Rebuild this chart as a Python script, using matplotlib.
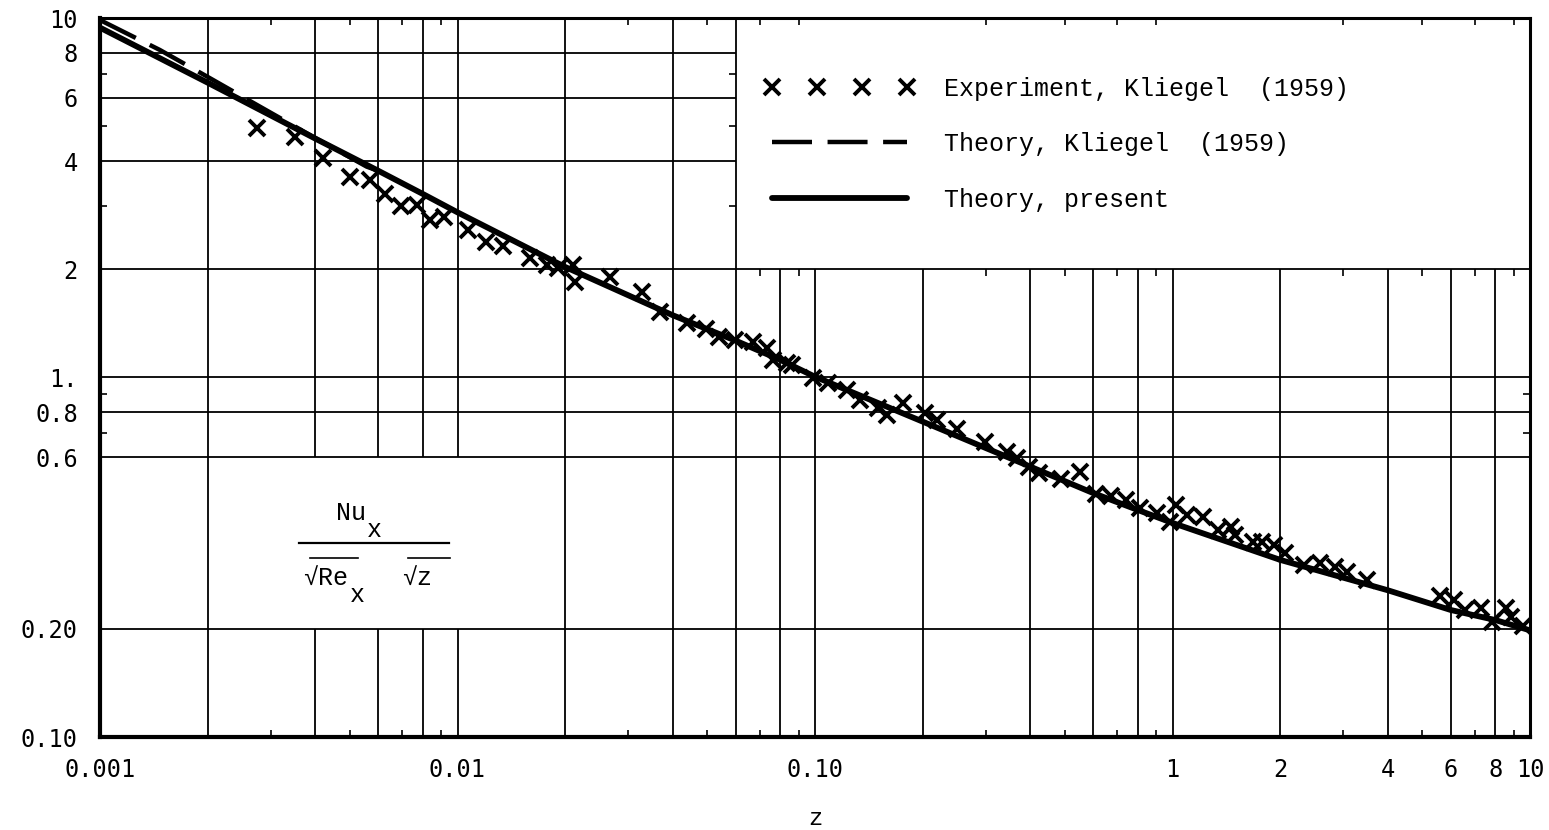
import matplotlib
matplotlib.use('Agg')
from matplotlib import pyplot as plt
from matplotlib.ticker import FixedLocator, NullFormatter

# Experiment, Kliegel (1959)
exp_z = [0.00275, 0.00351, 0.00421, 0.0050, 0.00569, 0.00627, 0.00695, 0.0077, 0.00838, 0.00917, 0.0107, 0.0120, 0.0134,
         0.0160, 0.0178, 0.0191, 0.0210, 0.0213, 0.0267, 0.0328, 0.0369, 0.0439, 0.0496, 0.0539, 0.0597, 0.0671,
         0.0734, 0.0763, 0.0835, 0.0863, 0.0987,
         0.109, 0.123, 0.134, 0.150, 0.159, 0.176, 0.203, 0.220, 0.250,
         0.298, 0.344, 0.367, 0.396, 0.423, 0.488, 0.551, 0.609, 0.673, 0.741, 0.810, 0.905, 0.984, 1.023, 1.10,
         1.22, 1.34, 1.46, 1.50, 1.68, 1.78, 1.92, 2.06, 2.33, 2.58, 2.85, 3.07, 3.51, 5.60, 6.12, 6.58, 7.28,
         7.83, 8.55, 8.85, 9.55]
exp_nu = [4.94, 4.67, 4.08, 3.61, 3.54, 3.24, 3.00, 3.02, 2.74, 2.80, 2.57, 2.38, 2.32,
          2.15, 2.06, 2.02, 2.06, 1.84, 1.90, 1.73, 1.52, 1.42, 1.36, 1.30, 1.27, 1.255,
          1.21, 1.12, 1.10, 1.08, 0.997,
          0.965, 0.923, 0.866, 0.823, 0.786, 0.849, 0.796, 0.762, 0.719,
          0.663, 0.622, 0.597, 0.565, 0.543, 0.522, 0.547, 0.474, 0.468, 0.456, 0.434, 0.420, 0.397, 0.442, 0.414,
          0.410, 0.376, 0.385, 0.365, 0.349, 0.349, 0.342, 0.325, 0.301, 0.305, 0.298, 0.288, 0.273, 0.246, 0.240,
          0.226, 0.228, 0.209, 0.228, 0.216, 0.203]

# Theory, Kliegel (1959)
kliegel_z = [0.001, 0.00147, 0.00201, 0.0028, 0.00417, 0.00557, 0.006]
kliegel_nu = [9.87, 8.15, 6.84, 5.67, 4.53, 3.86, 3.76]

# Theory, present
present_z = [0.001, 0.002, 0.004, 0.006, 0.008, 0.01, 0.02, 0.04, 0.06, 0.08, 0.1,
             0.2, 0.4, 0.6, 0.8, 1, 2, 4, 6, 8, 10]
present_nu = [9.4, 6.61, 4.62, 3.76, 3.24, 2.88, 2.03, 1.49, 1.266, 1.119, 1.005,
              0.754, 0.565, 0.477, 0.428, 0.394, 0.311, 0.256, 0.2256, 0.2115, 0.198]

x_ticks = [0.001, 0.01, 0.1, 1, 2, 4, 6, 8, 10]
x_labels = ['0.001', '0.01', '0.10', '1', '2', '4', '6', '8', '10']
y_ticks = [0.1, 0.2, 0.6, 0.8, 1, 2, 4, 6, 8, 10]
y_labels = ['0.10', '0.20', '0.6', '0.8', '1.', '2', '4', '6', '8', '10']

# graph-paper rulings; some are left out behind the legend and the ordinate label
xgrid_full = [0.002, 0.02, 0.04, 0.06]
xgrid_cut = [0.004, 0.006, 0.008, 0.01]
xgrid_low = [0.08, 0.1, 0.2, 0.4, 0.6, 0.8, 1, 2, 4, 6, 8]
ygrid_full = [0.2, 0.6, 0.8, 1, 2]
ygrid_left = [4, 6, 8]
x_minor = [m * d for d in (0.001, 0.01, 0.1, 1) for m in (3, 5, 7, 9)]
y_minor = [0.7, 0.9, 3, 5, 7]

MONO = 'DejaVu Sans Mono'
TYPE = 'Liberation Mono'
GRID_LW = 1.3

fig = plt.figure(figsize=(15.49, 8.30), dpi=100)
ax = fig.add_axes([100 / 1549, 93 / 830, 1430 / 1549, 719 / 830])
ax.set_xscale('log')
ax.set_yscale('log')
ax.set_xlim(0.001, 10)
ax.set_ylim(0.1, 10)

# rulings
ax.vlines(xgrid_full, 0.1, 10, color='black', lw=GRID_LW, zorder=1)
ax.vlines(xgrid_cut, 0.1, 0.2, color='black', lw=GRID_LW, zorder=1)
ax.vlines(xgrid_cut, 0.6, 10, color='black', lw=GRID_LW, zorder=1)
ax.vlines(xgrid_low, 0.1, 2, color='black', lw=GRID_LW, zorder=1)
ax.hlines(ygrid_full, 0.001, 10, color='black', lw=GRID_LW, zorder=1)
ax.hlines(ygrid_left, 0.001, 0.06, color='black', lw=GRID_LW, zorder=1)

# small ticks along the legend panel edges
tick_fx = 1.046
ax.vlines([z for z in x_minor if z > 0.06], 2 / tick_fx, 2, color='black', lw=1.2, zorder=1)
ax.hlines([3, 5, 7], 0.06 / tick_fx, 0.06, color='black', lw=1.2, zorder=1)
ax.hlines([0.7, 0.9], 10 / tick_fx, 10, color='black', lw=1.2, zorder=1)

ax.plot(present_z, present_nu, color='black', lw=4.2, solid_capstyle='round', zorder=3,
        label='Theory, present')
ax.plot(kliegel_z, kliegel_nu, color='black', lw=3.2, dashes=(9, 3.5), zorder=3,
        label='Theory, Kliegel  (1959)')
ax.plot(exp_z, exp_nu, linestyle='none', marker='x', ms=11, mew=2.8, color='black', zorder=4,
        label='Experiment, Kliegel  (1959)')

# axes frame
for side in ('left', 'bottom'):
    ax.spines[side].set_linewidth(3.0)
for side in ('top', 'right'):
    ax.spines[side].set_linewidth(2.2)

ax.xaxis.set_major_locator(FixedLocator(x_ticks))
ax.set_xticklabels(x_labels, fontfamily=MONO, fontsize=17)
ax.xaxis.set_minor_locator(FixedLocator(x_minor))
ax.xaxis.set_minor_formatter(NullFormatter())
ax.yaxis.set_major_locator(FixedLocator(y_ticks))
ax.set_yticklabels(y_labels, fontfamily=MONO, fontsize=17)
ax.yaxis.set_minor_locator(FixedLocator(y_minor))
ax.yaxis.set_minor_formatter(NullFormatter())
ax.tick_params(axis='x', which='major', length=0, pad=15)
ax.tick_params(axis='y', which='major', length=0, pad=16)
ax.tick_params(axis='x', which='minor', direction='in', length=5, width=1.2, top=True, bottom=True)
ax.tick_params(axis='y', which='minor', direction='in', length=5, width=1.2, left=True, right=False)

ax.set_xlabel('z', fontfamily=TYPE, fontsize=17, labelpad=18)

# ordinate label set inside the chart as a fraction
fs = 18
ax.text(0.1755, 0.302, 'Nu', transform=ax.transAxes, ha='center', va='baseline', fontfamily=TYPE, fontsize=fs)
ax.text(0.192, 0.278, 'x', transform=ax.transAxes, ha='center', va='baseline', fontfamily=TYPE, fontsize=fs)
ax.plot([0.139, 0.244], [0.2702, 0.2702], transform=ax.transAxes, color='black', lw=1.6)
ax.text(0.142, 0.2114, '\u221aRe', transform=ax.transAxes, ha='left', va='baseline', fontfamily=TYPE, fontsize=fs)
ax.text(0.180, 0.1878, 'x', transform=ax.transAxes, ha='center', va='baseline', fontfamily=TYPE, fontsize=fs)
ax.text(0.2112, 0.2114, '\u221az', transform=ax.transAxes, ha='left', va='baseline', fontfamily=TYPE, fontsize=fs)
ax.plot([0.1469, 0.1804], [0.249, 0.249], transform=ax.transAxes, color='black', lw=1.2)
ax.plot([0.2154, 0.2448], [0.249, 0.249], transform=ax.transAxes, color='black', lw=1.2)

handles, labels = ax.get_legend_handles_labels()
order = [2, 1, 0]
ax.legend([handles[i] for i in order], [labels[i] for i in order],
          loc='upper left', bbox_to_anchor=((764 - 100) / 1430, (737 - 77) / 719),
          frameon=False, numpoints=4, handlelength=6.0, handletextpad=1.2,
          labelspacing=1.25, borderpad=0, borderaxespad=0,
          prop={'family': TYPE, 'size': 18})

fig.savefig('out.png', dpi=100)
